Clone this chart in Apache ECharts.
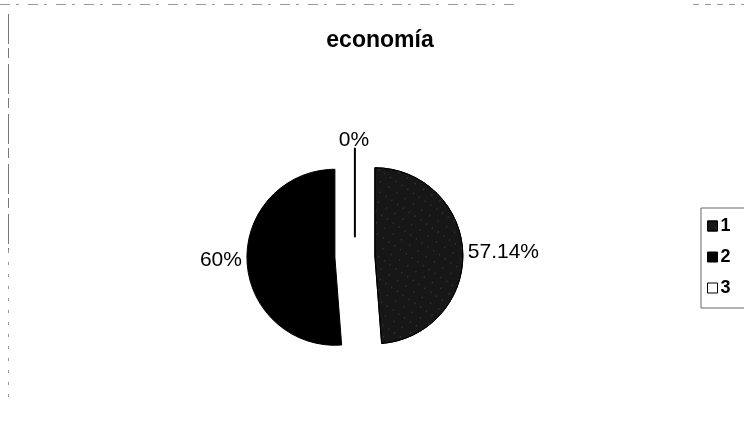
<!DOCTYPE html>
<html>
<head>
<meta charset="utf-8">
<script src="https://cdn.jsdelivr.net/npm/echarts@6/dist/echarts.min.js"></script>
<style>
html,body{margin:0;padding:0;background:#fff;}
#chart{width:744px;height:443px;}
</style>
</head>
<body>
<div id="chart"></div>
<script>
const titleText = 'economía';
const categories = ['1', '2', '3'];
const values = [57.14, 60, 0];
const sliceColors = ['#171717', '#000000', '#ffffff'];

const chart = echarts.init(document.getElementById('chart'), null, {renderer: 'canvas'});
const FONT = '"Liberation Sans", Arial, sans-serif';

const data = categories.map((name, i) => {
  const item = {
    name: name,
    value: values[i],
    selected: true,
    itemStyle: {color: sliceColors[i], borderColor: '#000', borderWidth: i === 2 ? 2 : 1}
  };
  if (i === 0) {
    item.itemStyle.decal = {
      symbol: 'rect',
      symbolSize: 0.4,
      color: 'rgba(255,255,255,0.6)',
      dashArrayX: [[1, 6], [1, 9]],
      dashArrayY: [2, 7],
      rotation: 0.6
    };
  }
  if (i === 2) {
    item.label = {formatter: '{c}%\n ', lineHeight: 17, padding: [0, 0, 0, 8]};
  }
  return item;
});

chart.setOption({
  animation: false,
  backgroundColor: '#fff',
  title: {
    text: titleText,
    left: 375,
    textAlign: 'center',
    top: 24,
    textStyle: {fontFamily: FONT, fontSize: 23, fontWeight: 'bold', color: '#000'}
  },
  legend: {
    orient: 'vertical',
    left: 701,
    top: 208,
    padding: [9, 40, 11, 6],
    borderColor: '#666',
    borderWidth: 1,
    itemWidth: 10,
    itemHeight: 10,
    itemGap: 13,
    icon: 'rect',
    selectedMode: false,
    itemStyle: {borderWidth: 1, borderColor: '#000'},
    textStyle: {fontFamily: FONT, fontSize: 18, fontWeight: 'bold', color: '#000', padding: [0, 0, 0, -2]},
    data: categories
  },
  graphic: [
    {type: 'line', shape: {x1: 0, y1: 4.5, x2: 515, y2: 4.5}, style: {stroke: '#999', lineWidth: 1, lineDash: [10, 6, 3, 9]}, silent: true},
    {type: 'line', shape: {x1: 693, y1: 4.5, x2: 744, y2: 4.5}, style: {stroke: '#999', lineWidth: 1, lineDash: [6, 6]}, silent: true},
    {type: 'line', shape: {x1: 8.5, y1: 14, x2: 8.5, y2: 250}, style: {stroke: '#777', lineWidth: 1, lineDash: [30, 4, 10, 6]}, silent: true},
    {type: 'line', shape: {x1: 8.5, y1: 250, x2: 8.5, y2: 404}, style: {stroke: '#999', lineWidth: 1, lineDash: [3, 9]}, silent: true}
  ],
  series: [{
    type: 'pie',
    center: ['47.7%', '57.9%'],
    radius: 88,
    startAngle: 90,
    clockwise: true,
    selectedMode: 'multiple',
    selectedOffset: 20,
    avoidLabelOverlap: false,
    minShowLabelAngle: 0,
    emphasis: {disabled: true},
    label: {
      show: true,
      position: 'outside',
      formatter: '{c}%',
      fontFamily: FONT,
      fontSize: 21,
      color: '#000'
    },
    labelLine: {show: false, length: 0, length2: 0},
    labelLayout: function (params) {
      if (params.dataIndex === 2) {
        return {align: 'center'};
      }
      return {};
    },
    data: data
  }]
});
</script>
</body>
</html>
